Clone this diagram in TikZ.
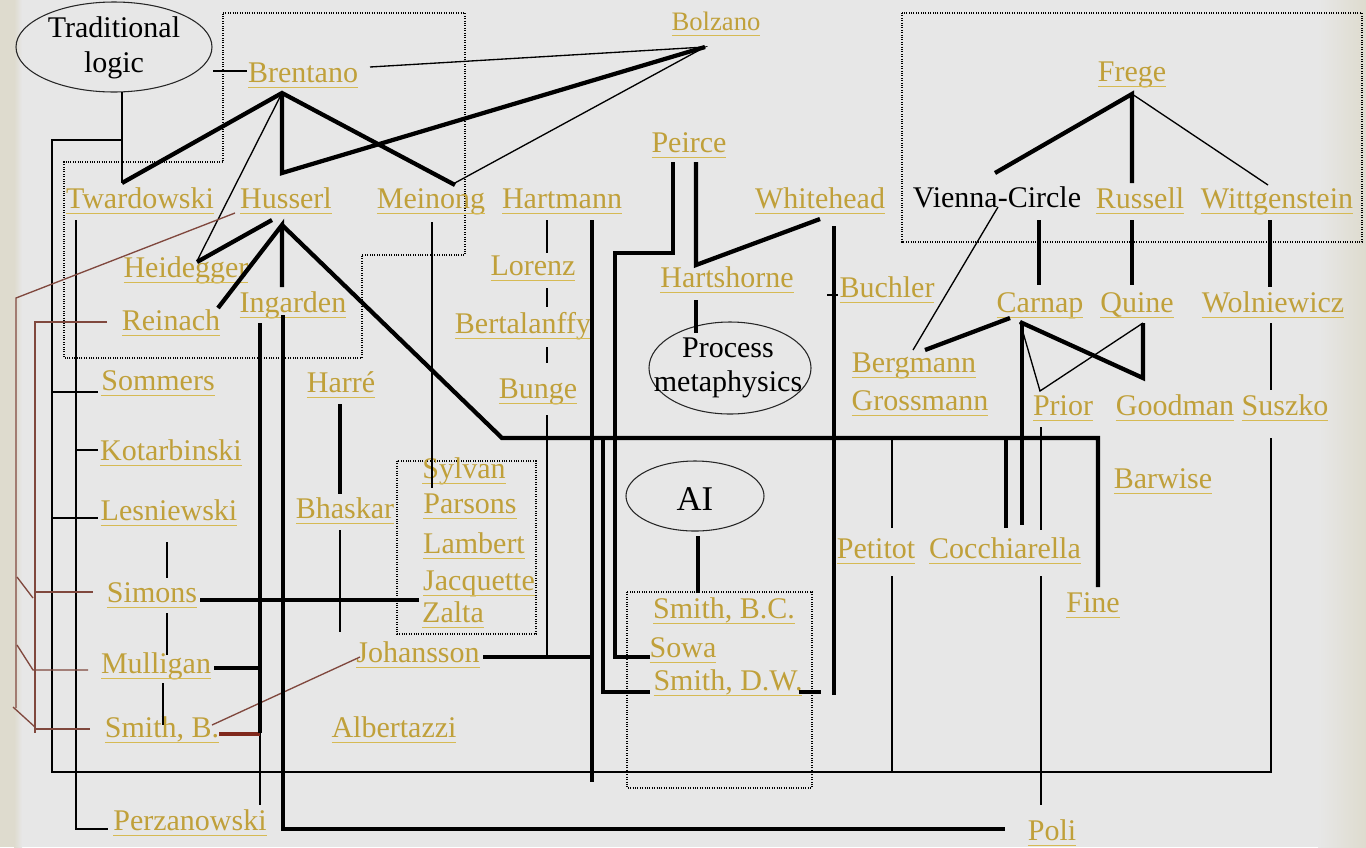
\documentclass[tikz,border=0pt]{standalone}
\usepackage{fontspec}
\setmainfont{Liberation Serif}
\usetikzlibrary{shapes.geometric}
\definecolor{bgc}{RGB}{231,231,231}
\definecolor{beig}{RGB}{222,219,206}
\definecolor{gold}{RGB}{192,160,58}
\definecolor{ulgold}{RGB}{214,186,84}
\definecolor{brn}{RGB}{128,72,62}
\definecolor{dbrn}{RGB}{128,40,28}
\newcommand\nmfont{\fontsize{22.5}{27}\selectfont}
\newcommand\ulx[1]{\sbox0{#1}\rlap{\usebox0}{\color{ulgold}\rule[-4.8pt]{\wd0}{1.4pt}}}
\begin{document}
\begin{tikzpicture}[x=0.75pt,y=-0.75pt,
  nm/.style={text=gold, inner sep=0pt, anchor=base, font=\nmfont},
  blk/.style={text=black, inner sep=0pt, font=\nmfont},
  ell/.style={draw=black!85, line width=0.8pt, ellipse, inner sep=0pt},
  thk/.style={line width=3.2pt},
  thn/.style={line width=1pt},
  brl/.style={draw=brn, line width=1pt},
  dbox/.style={densely dotted, line width=0.8pt}]
\useasboundingbox (0,0) rectangle (1366,847);
\fill[bgc] (0,0) rectangle (1366,847);
\fill[beig] (0,0) rectangle (14,847);
\shade[left color=beig, right color=bgc] (14,0) rectangle (22,847);
\shade[left color=bgc, right color=beig] (1318,0) rectangle (1366,847);

% dotted groups
\draw[dbox] (223,13) -- (465,13) -- (465,255) -- (362,255) -- (362,358) -- (64,358) -- (64,162) -- (223,162) -- cycle;
\draw[dbox] (902,13) rectangle (1362,242);
\draw[dbox] (397,461) rectangle (536,634);
\draw[dbox] (627,592) rectangle (812,788);

% ellipses
\node[ell, minimum width=147pt, minimum height=67.5pt] (tl) at (114,47) {};
\node[blk, align=center, font=\fontsize{22.5}{26.25}\selectfont] (tlt) at (114,47.5) {Traditional\\logic};
\node[ell, minimum width=121.5pt, minimum height=69pt] (pm) at (730,368) {};
\node[blk, align=center, font=\fontsize{22.5}{25.5}\selectfont] (pmt) at (728,368) {Process\\metaphysics};
\node[ell, minimum width=103.5pt, minimum height=52.5pt] (ai) at (695,496) {};
\node[blk, anchor=base, font=\fontsize{26}{30}\selectfont] (ait) at (695,510) {AI};

% names
\node[nm] (brentano) at (303,82) {\ulx{Brentano}};
\node[nm, font=\fontsize{20}{24}\selectfont] (bolzano) at (716,30) {\ulx{Bolzano}};
\node[nm] (frege) at (1132,81) {\ulx{Frege}};
\node[nm] (twardowski) at (140,208) {\ulx{Twardowski}};
\node[nm] (husserl) at (286,208) {\ulx{Husserl}};
\node[nm] (meinong) at (431,208) {\ulx{Meinong}};
\node[nm] (hartmann) at (562,208) {\ulx{Hartmann}};
\node[nm] (peirce) at (689,152) {\ulx{Peirce}};
\node[nm] (whitehead) at (820,208) {\ulx{Whitehead}};
\node[blk, anchor=base] (vienna) at (997,207) {Vienna-Circle};
\node[nm] (russell) at (1140,208) {\ulx{Russell}};
\node[nm] (wittgenstein) at (1277,208) {\ulx{Wittgenstein}};
\node[nm] (heidegger) at (186,277) {\ulx{Heidegger}};
\node[nm] (ingarden) at (293,312) {\ulx{Ingarden}};
\node[nm] (reinach) at (171,330) {\ulx{Reinach}};
\node[nm] (lorenz) at (533,275) {\ulx{Lorenz}};
\node[nm] (bertalanffy) at (523,333) {\ulx{Bertalanffy}};
\node[nm] (bunge) at (538,398) {\ulx{Bunge}};
\node[nm] (hartshorne) at (727,287) {\ulx{Hartshorne}};
\node[nm] (buchler) at (887,297) {\ulx{Buchler}};
\node[nm] (carnap) at (1040,312) {\ulx{Carnap}};
\node[nm] (quine) at (1137,312) {\ulx{Quine}};
\node[nm] (wolniewicz) at (1273,312) {\ulx{Wolniewicz}};
\node[nm] (bergmann) at (914,372) {\ulx{Bergmann}};
\node[nm] (grossmann) at (920,410) {\ulx{Grossmann}};
\node[nm] (prior) at (1063,415) {\ulx{Prior}};
\node[nm] (goodman) at (1175,415) {\ulx{Goodman}};
\node[nm] (suszko) at (1285,415) {\ulx{Suszko}};
\node[nm] (barwise) at (1163,488) {\ulx{Barwise}};
\node[nm] (petitot) at (876,558) {\ulx{Petitot}};
\node[nm] (cocchiarella) at (1005,558) {\ulx{Cocchiarella}};
\node[nm] (fine) at (1093,612) {\ulx{Fine}};
\node[nm] (poli) at (1052,840) {\ulx{Poli}};
\node[nm] (sommers) at (158,390) {\ulx{Sommers}};
\node[nm] (harre) at (341,392) {\ulx{Harré}};
\node[nm] (kotarbinski) at (171,460) {\ulx{Kotarbinski}};
\node[nm] (lesniewski) at (169,520) {\ulx{Lesniewski}};
\node[nm] (bhaskar) at (345,518) {\ulx{Bhaskar}};
\node[nm] (sylvan) at (464,478) {\ulx{Sylvan}};
\node[nm] (parsons) at (470,513) {\ulx{Parsons}};
\node[nm] (lambert) at (474,553) {\ulx{Lambert}};
\node[nm] (jacquette) at (479,590) {\ulx{Jacquette}};
\node[nm] (zalta) at (453,622) {\ulx{Zalta}};
\node[nm] (johansson) at (418,662) {\ulx{Johansson}};
\node[nm] (simons) at (152,602) {\ulx{Simons}};
\node[nm] (mulligan) at (156,673) {\ulx{Mulligan}};
\node[nm] (smithb) at (162,737) {\ulx{Smith, B.}};
\node[nm] (albertazzi) at (394,737) {\ulx{Albertazzi}};
\node[nm] (perzanowski) at (190,830) {\ulx{Perzanowski}};
\node[nm] (smithbc) at (724,618) {\ulx{Smith, B.C.}};
\node[nm] (sowa) at (683,657) {\ulx{Sowa}};
\node[nm] (smithdw) at (728,690) {\ulx{Smith, D.W.}};

% connector points
\coordinate (tlR) at (213,71); \coordinate (brL) at (247,71);
\coordinate (tlB) at (122,92); \coordinate (twT) at (122,183);
\coordinate (tlJ) at (122,140); \coordinate (c1) at (52,140);
\coordinate (c2) at (52,772); \coordinate (c3) at (1271,772); \coordinate (suB) at (1271,438);
\coordinate (soJ) at (52,392); \coordinate (soW) at (98,392);
\coordinate (leJ) at (52,518); \coordinate (leW) at (98,518);
\coordinate (twB) at (76,220); \coordinate (pe1) at (76,829); \coordinate (peW) at (108,829);
\coordinate (koJ) at (76,450); \coordinate (koW) at (98,450);
\coordinate (brH) at (282,93); \coordinate (meT) at (455,185);
\coordinate (brV) at (282,173); \coordinate (boH) at (705,47);
\coordinate (heT) at (197,261); \coordinate (brR) at (370,67); \coordinate (meT2) at (453,184);
\coordinate (huH) at (282,225); \coordinate (huL) at (272,220); \coordinate (heR) at (197,262);
\coordinate (reT) at (218,308); \coordinate (inT) at (282,287);
\coordinate (k1) at (502,438); \coordinate (k2) at (1098,438); \coordinate (fiT) at (1098,587);
\coordinate (huW) at (235,213); \coordinate (b1) at (16,298); \coordinate (b2) at (16,708);
\coordinate (reW) at (107,322); \coordinate (b3) at (35,322); \coordinate (b4) at (35,733);
\coordinate (d1a) at (17,577); \coordinate (d1b) at (33,598);
\coordinate (siL) at (35,592); \coordinate (siW) at (93,592);
\coordinate (d2a) at (17,645); \coordinate (d2b) at (33,670); \coordinate (muW) at (88,670);
\coordinate (d3a) at (13,707); \coordinate (d3b) at (35,727);
\coordinate (sbL) at (35,729); \coordinate (sbW) at (90,729);
\coordinate (meB) at (432,222); \coordinate (paT) at (432,488);
\coordinate (haB) at (547,220); \coordinate (loT) at (547,253);
\coordinate (loB) at (547,288); \coordinate (btT) at (547,307);
\coordinate (btB) at (547,347); \coordinate (bgT) at (547,363);
\coordinate (bgB) at (547,415); \coordinate (joJ) at (547,657);
\coordinate (haB2) at (592,220); \coordinate (haE) at (592,782);
\coordinate (joE) at (483,657); \coordinate (joK) at (592,657);
\coordinate (dw1) at (603,438); \coordinate (dw2) at (603,692); \coordinate (dwW) at (650,692);
\coordinate (peB1) at (673,162); \coordinate (p1) at (673,253); \coordinate (p2) at (615,253);
\coordinate (p3) at (615,657); \coordinate (soWa) at (650,657);
\coordinate (peB2) at (696,162); \coordinate (hsT) at (696,265); \coordinate (whB) at (820,219);
\coordinate (hsB) at (696,300); \coordinate (pmT) at (696,333);
\coordinate (whB2) at (834,226); \coordinate (whE) at (834,695);
\coordinate (buW1) at (827,295); \coordinate (buW2) at (838,295);
\coordinate (dwE1) at (799,692); \coordinate (dwE2) at (821,692);
\coordinate (aiB) at (698,536); \coordinate (bcT) at (698,593);
\coordinate (hrB) at (340,404); \coordinate (bhT) at (340,494);
\coordinate (bhB) at (340,530); \coordinate (bhE) at (340,632);
\coordinate (siE) at (200,600); \coordinate (jqW) at (419,600);
\coordinate (lsB) at (167,542); \coordinate (siT) at (167,578);
\coordinate (siB) at (167,613); \coordinate (muT) at (167,655);
\coordinate (muB) at (163,683); \coordinate (sbT) at (163,725);
\coordinate (inB1) at (260,323); \coordinate (inK) at (260,733); \coordinate (pzT) at (260,805);
\coordinate (muE) at (214,668); \coordinate (muK) at (262,668);
\coordinate (sbE) at (219,734); \coordinate (sbK) at (260,734);
\coordinate (inB2) at (283,315); \coordinate (q1) at (283,829); \coordinate (poW) at (1005,829);
\coordinate (sbR) at (212,725); \coordinate (joW) at (360,657);
\coordinate (viB) at (998,207); \coordinate (bmT) at (913,350);
\coordinate (frH) at (1132,94); \coordinate (viT) at (995,173); \coordinate (ruT) at (1132,183);
\coordinate (wiT) at (1268,185);
\coordinate (viB2) at (1039,220); \coordinate (caT) at (1039,285);
\coordinate (ruB) at (1132,220); \coordinate (quT) at (1132,285);
\coordinate (wiB) at (1270,220); \coordinate (woT) at (1270,287);
\coordinate (woB) at (1271,323); \coordinate (suT) at (1271,390);
\coordinate (caL) at (1010,318); \coordinate (bmR) at (925,350);
\coordinate (caH) at (1020,322); \coordinate (gm1) at (1143,378); \coordinate (quB) at (1143,323);
\coordinate (prT) at (1040,391);
\coordinate (caV) at (1022,322); \coordinate (coT1) at (1022,525);
\coordinate (kc) at (1006,438); \coordinate (coT2) at (1006,528);
\coordinate (prB) at (1041,427); \coordinate (coT3) at (1041,530);
\coordinate (coB3) at (1041,576); \coordinate (poT) at (1041,805);
\coordinate (ptJ) at (892,440); \coordinate (ptT) at (892,528);
\coordinate (ptB) at (892,576); \coordinate (ptE) at (892,772);

% thin black connectors
\draw[thn] (tlR) -- (brL);
\draw[thn] (tlB) -- (twT);
\draw[thn] (tlJ) -- (c1) -- (c2) -- (c3) -- (suB);
\draw[thn] (soJ) -- (soW);
\draw[thn] (leJ) -- (leW);
\draw[thn] (twB) -- (pe1) -- (peW);
\draw[thn] (koJ) -- (koW);
\draw[thn] (brH) -- (heT);
\draw[thn] (brR) -- (boH) -- (meT2);
\draw[thn] (meB) -- (paT);
\draw[thn] (haB) -- (loT);
\draw[thn] (loB) -- (btT);
\draw[thn] (btB) -- (bgT);
\draw[thn] (bgB) -- (joJ);
\draw[thn] (buW1) -- (buW2);
\draw[thn] (bhB) -- (bhE);
\draw[thn] (lsB) -- (siT);
\draw[thn] (siB) -- (muT);
\draw[thn] (muB) -- (sbT);
\draw[thn] (inK) -- (pzT);
\draw[thn] (viB) -- (bmT);
\draw[thn] (frH) -- (wiT);
\draw[thn] (woB) -- (suT);
\draw[thn] (caH) -- (prT) -- (quB);
\draw[thn] (prB) -- (coT3);
\draw[thn] (coB3) -- (poT);
\draw[thn] (ptJ) -- (ptT);
\draw[thn] (ptB) -- (ptE);

% brown connectors
\draw[brl] (huW) -- (b1) -- (b2);
\draw[brl] (reW) -- (b3) -- (b4);
\draw[brl] (d1a) -- (d1b);
\draw[brl] (siL) -- (siW);
\draw[brl] (d2a) -- (d2b) -- (muW);
\draw[brl] (d3a) -- (d3b);
\draw[brl] (sbL) -- (sbW);
\draw[brl] (sbR) -- (joW);
\draw[draw=dbrn, line width=3.2pt] (sbE) -- (sbK);

% thick connectors
\draw[thk] (twT) -- (brH) -- (meT);
\draw[thk] (brH) -- (brV) -- (boH);
\draw[thk] (huL) -- (heR);
\draw[thk] (reT) -- (huH) -- (inT);
\draw[thk] (huH) -- (k1) -- (k2) -- (fiT);
\draw[thk] (haB2) -- (haE);
\draw[thk] (joE) -- (joK);
\draw[thk] (dw1) -- (dw2) -- (dwW);
\draw[thk] (peB1) -- (p1) -- (p2) -- (p3) -- (soWa);
\draw[thk] (peB2) -- (hsT) -- (whB);
\draw[thk] (hsB) -- (pmT);
\draw[thk] (whB2) -- (whE);
\draw[thk] (dwE1) -- (dwE2);
\draw[thk] (aiB) -- (bcT);
\draw[thk] (hrB) -- (bhT);
\draw[thk] (siE) -- (jqW);
\draw[thk] (inB1) -- (inK);
\draw[thk] (muE) -- (muK);
\draw[thk] (inB2) -- (q1) -- (poW);
\draw[thk] (viT) -- (frH) -- (ruT);
\draw[thk] (viB2) -- (caT);
\draw[thk] (ruB) -- (quT);
\draw[thk] (wiB) -- (woT);
\draw[thk] (caL) -- (bmR);
\draw[thk] (caH) -- (gm1) -- (quB);
\draw[thk] (caV) -- (coT1);
\draw[thk] (kc) -- (coT2);
\end{tikzpicture}
\end{document}
